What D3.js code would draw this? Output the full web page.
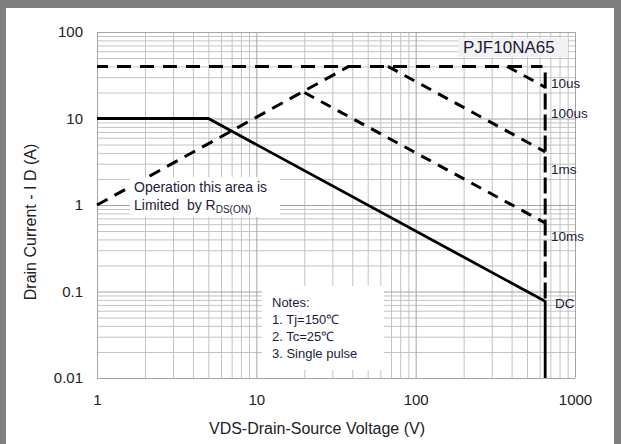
<!DOCTYPE html>
<html>
<head>
<meta charset="utf-8">
<script src="https://cdn.jsdelivr.net/npm/d3@7/dist/d3.min.js"></script>
<style>
  html, body { margin: 0; padding: 0; background: #fff; }
  svg { display: block; }
  text { font-family: "Liberation Sans", Arial, sans-serif; white-space: pre; }
</style>
</head>
<body>
<svg id="chart" width="621" height="444"></svg>
<script>
// Safe operating area, PJF10NA65 — drain current vs drain-source voltage (log/log)
const voltageTicks = [1, 10, 100, 1000];
const currentTicks = [0.01, 0.1, 1, 10, 100];

// DC boundary: current limit, power limit, then drop at the VDS rating
const dcBoundary = [[1, 10], [5, 10], [650, 0.077], [650, 0.01]];
// RDS(on) limited region
const rdsLimit = [[1, 1], [38, 40]];
// Pulsed current limit
const pulsedCurrentLimit = [[1, 40], [625, 40]];
// Pulsed power limits
const pulseShort = [[375, 40], [650, 23]];
const pulseMid = [[67, 40], [650, 4.12]];
const pulseLong = [[20, 20], [650, 0.62]];
// Breakdown voltage limit
const vdsRating = [[650, 34], [650, 0.08]];

const pulseLabels = ["10us", "100us", "1ms", "10ms", "DC"];
const pulseLabelCurrents = [26, 11.6, 2.6, 0.44, 0.073];

const notes = ["Notes:", "1. Tj=150℃", "2. Tc=25℃", "3. Single pulse"];

const svg = d3.select("#chart");
const W = 621, H = 444;
const m = { left: 97, top: 32, right: 575, bottom: 378 };

// outer frame
svg.append("rect").attr("x", 0).attr("y", 0).attr("width", W).attr("height", H).attr("fill", "#7f7f7f");
svg.append("rect").attr("x", 6).attr("y", 8).attr("width", 608).attr("height", H - 8).attr("fill", "#fff");

const x = d3.scaleLog().domain([1, 1000]).range([m.left, m.right]);
const y = d3.scaleLog().domain([0.01, 100]).range([m.bottom, m.top]);

const minorX = [];
const minorY = [];
for (let d = 1; d < 1000; d *= 10) for (let k = 2; k <= 9; k++) minorX.push(d * k);
for (let d = 0.01; d < 100; d *= 10) for (let k = 2; k <= 9; k++) minorY.push(+(d * k).toPrecision(3));

const plotW = m.right - m.left, plotH = m.bottom - m.top;

// minor grid
svg.append("g").attr("transform", `translate(0,${m.bottom})`)
  .call(d3.axisBottom(x).tickValues(minorX).tickSize(-plotH).tickFormat(""))
  .call(g => g.select(".domain").remove())
  .call(g => g.selectAll("line").attr("stroke", "#c2c2c2"));
svg.append("g").attr("transform", `translate(${m.left},0)`)
  .call(d3.axisLeft(y).tickValues(minorY).tickSize(-plotW).tickFormat(""))
  .call(g => g.select(".domain").remove())
  .call(g => g.selectAll("line").attr("stroke", "#c2c2c2"));

// decade grid
svg.append("g").attr("transform", `translate(0,${m.bottom})`)
  .call(d3.axisBottom(x).tickValues(voltageTicks).tickSize(-plotH).tickFormat(""))
  .call(g => g.select(".domain").remove())
  .call(g => g.selectAll("line").attr("stroke", "#a4a4a4"));
svg.append("g").attr("transform", `translate(${m.left},0)`)
  .call(d3.axisLeft(y).tickValues(currentTicks).tickSize(-plotW).tickFormat(""))
  .call(g => g.select(".domain").remove())
  .call(g => g.selectAll("line").attr("stroke", "#a4a4a4"));

// tick labels
svg.append("g").attr("transform", `translate(0,${m.bottom})`)
  .call(d3.axisBottom(x).tickValues(voltageTicks).tickSize(0).tickPadding(16).tickFormat(d3.format("~g")))
  .call(g => g.select(".domain").remove())
  .call(g => g.selectAll("text").attr("font-size", 15).attr("fill", "#222")
    .attr("font-family", "'Liberation Sans', Arial, sans-serif"));
svg.append("g").attr("transform", `translate(${m.left},0)`)
  .call(d3.axisLeft(y).tickValues(currentTicks).tickSize(0).tickPadding(14).tickFormat(d3.format("~g")))
  .call(g => g.select(".domain").remove())
  .call(g => g.selectAll("text").attr("font-size", 15).attr("fill", "#222")
    .attr("font-family", "'Liberation Sans', Arial, sans-serif"));

// axis titles
svg.append("text").attr("x", 317).attr("y", 434).attr("text-anchor", "middle")
  .attr("font-size", 16).attr("fill", "#222").text("VDS-Drain-Source Voltage (V)");
svg.append("text").attr("transform", "translate(36,222) rotate(-90)").attr("text-anchor", "middle")
  .attr("font-size", 16).attr("fill", "#222").text("Drain Current - I D (A)");

const line = d3.line().x(d => x(d[0])).y(d => y(d[1]));
const lines = svg.append("g").attr("fill", "none").attr("stroke", "#000");

lines.append("path").attr("d", line(pulsedCurrentLimit)).attr("stroke-width", 3)
  .attr("stroke-dasharray", "14,9").attr("stroke-dashoffset", 3);
lines.append("path").attr("d", line(rdsLimit)).attr("stroke-width", 3).attr("stroke-dasharray", "12,8");
lines.append("path").attr("d", line(pulseShort)).attr("stroke-width", 3).attr("stroke-dasharray", "11,8");
lines.append("path").attr("d", line(pulseMid)).attr("stroke-width", 3).attr("stroke-dasharray", "11,8");
lines.append("path").attr("d", line(pulseLong)).attr("stroke-width", 3).attr("stroke-dasharray", "11,8");
lines.append("path").attr("d", line(vdsRating)).attr("stroke-width", 3).attr("stroke-dasharray", "16,5");
lines.append("path").attr("d", line(dcBoundary)).attr("stroke-width", 2.8).attr("stroke-linejoin", "miter");

const ink = "#1c1c3c";

// pulse width labels
svg.append("g").selectAll("text").data(pulseLabels).join("text")
  .attr("x", (d, i) => i === 4 ? 555 : 551)
  .attr("y", (d, i) => y(pulseLabelCurrents[i]) + 5)
  .attr("font-size", 13.5).attr("fill", ink).text(d => d);

// part number tag
svg.append("rect").attr("x", 458).attr("y", 38).attr("width", 110).attr("height", 19).attr("fill", "#f2f2f2");
svg.append("text").attr("x", 463).attr("y", 53).attr("font-size", 17).attr("fill", ink).text("PJF10NA65");

// RDS(on) note
svg.append("rect").attr("x", 130).attr("y", 177).attr("width", 150).attr("height", 40).attr("fill", "#fff");
svg.append("text").attr("x", 134).attr("y", 192).attr("font-size", 14).attr("fill", ink).text("Operation this area is");
const t2 = svg.append("text").attr("x", 134).attr("y", 210).attr("font-size", 14).attr("fill", ink);
t2.append("tspan").text("Limited  by R");
t2.append("tspan").attr("dy", 3).attr("font-size", 10).text("DS(ON)");

// notes box
svg.append("rect").attr("x", 262).attr("y", 286).attr("width", 122).attr("height", 84).attr("fill", "#fff");
svg.append("g").selectAll("text").data(notes).join("text")
  .attr("x", 272).attr("y", (d, i) => 307 + i * 17)
  .attr("font-size", 13).attr("fill", ink).text(d => d);
</script>
</body>
</html>
